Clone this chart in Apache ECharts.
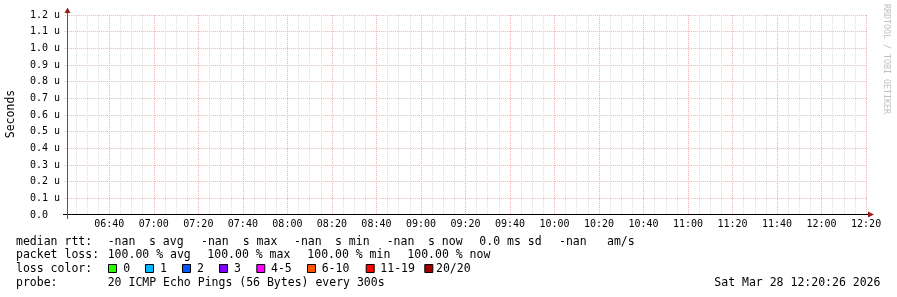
<!DOCTYPE html>
<html>
<head>
<meta charset="utf-8">
<script src="https://cdn.jsdelivr.net/npm/echarts@6/dist/echarts.min.js"></script>
<style>
html,body{margin:0;padding:0;background:#fff;}
#chart{width:897px;height:297px;}
</style>
</head>
<body>
<div id="chart"></div>
<script>
// ---- data ----
// x values are minutes since midnight (Sat Mar 28 2026)
const xStartMinute = 380;      // 06:20
const xEndMinute = 740.4;      // 12:20:26 (approx)
const medianRtt = [];          // all samples are -nan (100% loss)
const xTickLabels = ['06:40','07:00','07:20','07:40','08:00','08:20','08:40','09:00','09:20','09:40','10:00','10:20','10:40','11:00','11:20','11:40','12:00','12:20'];
const yTickLabels = ['0.0','0.1 u','0.2 u','0.3 u','0.4 u','0.5 u','0.6 u','0.7 u','0.8 u','0.9 u','1.0 u','1.1 u','1.2 u'];
const yAxisName = 'Seconds';
const legendRtt = ['median rtt:','-nan','s avg','-nan','s max','-nan','s min','-nan','s now','0.0 ms sd','-nan','am/s'];
const legendLoss = ['packet loss:','100.00 % avg','100.00 % max','100.00 % min','100.00 % now'];
const lossTitle = 'loss color:';
const lossLabels = ['0','1','2','3','4-5','6-10','11-19','20/20'];
const lossColors = ['#26ff00','#00b8ff','#0059ff','#7e00ff','#ff00ff','#ff5500','#ff0000','#a10000'];
const probeText = ['probe:','20 ICMP Echo Pings (56 Bytes) every 300s'];
const dateText = 'Sat Mar 28 12:20:26 2026';
const watermark = 'RRDTOOL / TOBI OETIKER';

// ---- layout ----
const MONO = '"DejaVu Sans Mono", monospace';
const legFont = '11.5px ' + MONO;
const rttX = [16,107.7,149,201,242.7,294,335,386.7,428,479.3,559,607];
const lossX = [16,107.7,207.3,307.3,407.3];
const boxX = [108,145,182,219,256.3,307,365.7,424.3];
const boxLabelX = [123.3,160,197,234,271,321.7,380.3,436];
const rowY = [242,255.5,269.5,283.5];

const graphics = [];
function txt(x, y, s, font, fill) {
  graphics.push({type:'text', x:x, y:y, silent:true,
    style:{text:s, font:font || legFont, fill:fill || '#000', verticalAlign:'middle', align:'left'}});
}
legendRtt.forEach((s,i)=>txt(rttX[i], rowY[0], s));
legendLoss.forEach((s,i)=>txt(lossX[i], rowY[1], s));
txt(16, rowY[2], lossTitle);
lossLabels.forEach((s,i)=>{
  graphics.push({type:'rect', silent:true, shape:{x:boxX[i]+0.5, y:264.5, width:8, height:8},
    style:{fill:lossColors[i], stroke:'#000', lineWidth:1}});
  txt(boxLabelX[i], rowY[2], s);
});
txt(16, rowY[3], probeText[0]);
txt(107.7, rowY[3], probeText[1]);
txt(714.3, rowY[3], dateText);
// y axis name
graphics.push({type:'text', x:11, y:114, rotation:Math.PI/2, silent:true,
  style:{text:yAxisName, font:legFont, fill:'#000', align:'center', verticalAlign:'middle'}});
// watermark
graphics.push({type:'text', x:886, y:59, rotation:-Math.PI/2, silent:true,
  style:{text:watermark, font:'8.3px ' + MONO, fill:'#c0c0c0', align:'center', verticalAlign:'middle'}});
// axis lines (extended) and arrows
graphics.push({type:'line', silent:true, z:10, shape:{x1:63, y1:214.5, x2:868, y2:214.5}, style:{stroke:'#000', lineWidth:1}});
graphics.push({type:'line', silent:true, z:10, shape:{x1:67.5, y1:219, x2:67.5, y2:12}, style:{stroke:'#555', lineWidth:1}});
graphics.push({type:'polygon', silent:true, z:10, shape:{points:[[868,211.5],[874,214.5],[868,217.5]]}, style:{fill:'#9b1b1b'}});
graphics.push({type:'polygon', silent:true, z:10, shape:{points:[[64.5,13],[67.5,7.5],[70.5,13]]}, style:{fill:'#9b1b1b'}});

const chart = echarts.init(document.getElementById('chart'), null, {renderer:'canvas'});
chart.setOption({
  animation:false,
  backgroundColor:'#ffffff',
  grid:{left:64.8, top:15, width:802.2, height:200, outerBoundsMode:'none', containLabel:false},
  xAxis:{
    type:'value', min:xStartMinute, max:xEndMinute, interval:20,
    axisLine:{show:false},
    axisTick:{show:false},
    axisLabel:{fontFamily:MONO, fontSize:10, color:'#000', margin:4, hideOverlap:false,
      formatter:(v)=>{
        const r = (v - xStartMinute) / 20;
        if (Math.abs(r - Math.round(r)) > 1e-6) return '';
        const k = Math.round(r) - 1;
        return (k >= 0 && k < xTickLabels.length) ? xTickLabels[k] : '';
      }},
    splitLine:{show:true, showMinLine:false, showMaxLine:false, lineStyle:{color:'#f4b0b0', width:1, type:'dotted'}},
    minorTick:{show:false, splitNumber:4},
    minorSplitLine:{show:true, lineStyle:{color:'#dcdcdc', width:1, type:'dotted'}}
  },
  yAxis:{
    type:'value', min:0, max:1.2, interval:0.1,
    axisLine:{show:false},
    axisTick:{show:false},
    axisLabel:{fontFamily:MONO, fontSize:10, color:'#000', align:'left', margin:34.8,
      formatter:(v,i)=>yTickLabels[i]},
    splitLine:{show:true, showMinLine:false, lineStyle:{color:'#f4b0b0', width:1, type:'dotted'}}
  },
  series:[{type:'line', name:'median rtt', data:medianRtt, showSymbol:false}],
  graphic:graphics
});
</script>
</body>
</html>
